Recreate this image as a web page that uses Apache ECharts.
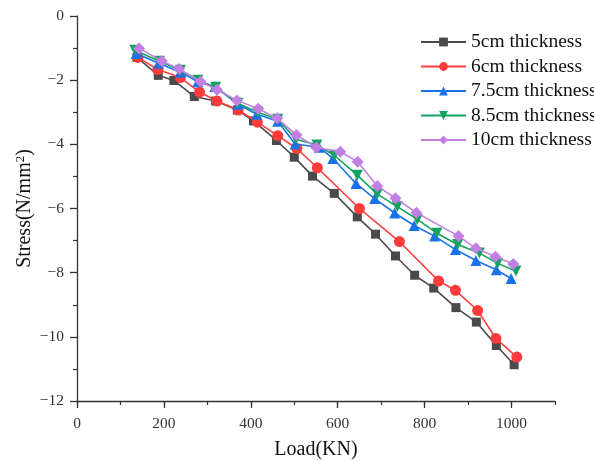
<!DOCTYPE html>
<html>
<head>
<meta charset="utf-8">
<script src="https://cdn.jsdelivr.net/npm/echarts@6/dist/echarts.min.js"></script>
<style>
html,body{margin:0;padding:0;background:#fff;}
#chart{width:594px;height:461px;}
</style>
</head>
<body>
<div id="chart"></div>
<script>
// Load (KN) vs. stress (N/mm²) for each slab thickness
const seriesNames = ['5cm thickness', '6cm thickness', '7.5cm thickness', '8.5cm thickness', '10cm thickness'];

const load5 = [138, 187, 223, 270, 319, 369, 406, 459, 500, 542, 592, 645, 687, 733, 777, 821, 872, 919, 965, 1006];
const stress5 = [-1.29, -1.85, -2.01, -2.51, -2.65, -2.93, -3.27, -3.88, -4.40, -4.99, -5.53, -6.26, -6.80, -7.48, -8.08, -8.48, -9.09, -9.54, -10.27, -10.87];

const load6 = [140, 186, 238, 282, 322, 371, 415, 462, 506, 553, 650, 742, 832, 871, 922, 964, 1012];
const stress6 = [-1.29, -1.67, -1.92, -2.37, -2.65, -2.93, -3.31, -3.73, -4.13, -4.73, -6.00, -7.03, -8.26, -8.55, -9.18, -10.05, -10.63];

const load75 = [136, 188, 238, 278, 317, 370, 414, 462, 502, 557, 589, 642, 685, 731, 776, 823, 871, 918, 965, 999];
const stress75 = [-1.17, -1.47, -1.75, -2.05, -2.20, -2.75, -3.06, -3.28, -3.99, -4.09, -4.44, -5.22, -5.69, -6.14, -6.53, -6.86, -7.28, -7.62, -7.91, -8.18];

const load85 = [133, 190, 238, 278, 319, 370, 416, 462, 504, 552, 592, 645, 691, 737, 783, 828, 876, 926, 968, 1010];
const stress85 = [-1.07, -1.41, -1.69, -2.00, -2.22, -2.72, -3.00, -3.22, -3.84, -4.02, -4.34, -4.96, -5.55, -5.94, -6.34, -6.77, -7.12, -7.39, -7.71, -7.95];

const load10 = [143, 195, 235, 284, 322, 368, 417, 461, 505, 551, 606, 646, 691, 733, 781, 878, 918, 963, 1004];
const stress10 = [-1.01, -1.40, -1.65, -2.04, -2.30, -2.63, -2.89, -3.19, -3.71, -4.10, -4.23, -4.54, -5.30, -5.68, -6.13, -6.86, -7.24, -7.50, -7.73];

const xTickLabels = [0, 200, 400, 600, 800, 1000];

const FONT = '"Liberation Serif", "Times New Roman", serif';
const AXIS_COLOR = '#333';
const colors = ['#4a4a4a', '#ff3b3b', '#1a72e8', '#13a25f', '#c27fe2'];
const symbols = ['rect', 'circle', 'triangle', 'path://M0,0 L10,0 L5,10 Z', 'diamond'];
const symbolSizes = [9, 11, 11, 11, 12];

const loads = [load5, load6, load75, load85, load10];
const stresses = [stress5, stress6, stress75, stress85, stress10];

const fmtMinus = v => (v < 0 ? '\u2212' + Math.abs(v) : String(v));

const gridBox = { left: 77, right: 39, top: 16, bottom: 60, containLabel: false, outerBoundsMode: 'none' };

const series = seriesNames.map((name, i) => ({
  name: name,
  type: 'line',
  xAxisIndex: 0,
  yAxisIndex: 0,
  data: loads[i].map((x, k) => [x, stresses[i][k]]),
  symbol: symbols[i],
  symbolSize: symbolSizes[i],
  showAllSymbol: true,
  lineStyle: { color: colors[i], width: 1.6 },
  itemStyle: { color: colors[i], borderWidth: 0 },
  emphasis: { disabled: true },
  animation: false,
  z: 2 + i
}));

const chart = echarts.init(document.getElementById('chart'), null, { renderer: 'canvas' });
chart.setOption({
  backgroundColor: '#fff',
  animation: false,
  grid: [Object.assign({}, gridBox), Object.assign({}, gridBox)],
  legend: {
    orient: 'vertical',
    left: 420,
    top: 32,
    padding: 0,
    itemWidth: 45,
    itemHeight: 11,
    itemGap: 4.5,
    textStyle: { fontFamily: FONT, fontSize: 19.5, color: '#111', lineHeight: 20 },
    data: seriesNames
  },
  xAxis: [
    {
      type: 'value',
      gridIndex: 0,
      min: 0, max: 1100, interval: 200,
      name: 'Load(KN)',
      nameLocation: 'middle',
      nameGap: 39,
      nameMoveOverlap: false,
      nameTextStyle: { fontFamily: FONT, fontSize: 20, color: '#111' },
      axisLine: { show: true, onZero: false, lineStyle: { color: AXIS_COLOR, width: 1.3 } },
      axisTick: { show: true, inside: false, length: 7, customValues: xTickLabels, lineStyle: { color: AXIS_COLOR, width: 1.3 } },
      axisLabel: { customValues: xTickLabels, margin: 15, fontFamily: FONT, fontSize: 15.5, color: '#333', formatter: v => String(v) },
      splitLine: { show: false }
    },
    {
      // minor ticks every 100 KN
      type: 'value',
      gridIndex: 1,
      position: 'bottom',
      min: 0, max: 1100, interval: 100,
      axisLine: { show: false, onZero: false },
      axisTick: { show: true, inside: false, length: 4, lineStyle: { color: AXIS_COLOR, width: 1.2 } },
      axisLabel: { show: false },
      splitLine: { show: false }
    }
  ],
  yAxis: [
    {
      type: 'value',
      gridIndex: 0,
      min: -12, max: 0, interval: 2,
      name: 'Stress(N/mm{sup|2})',
      nameLocation: 'middle',
      nameRotate: 90,
      nameGap: 41,
      nameMoveOverlap: false,
      nameTextStyle: {
        fontFamily: FONT, fontSize: 20, color: '#111',
        rich: { sup: { fontFamily: FONT, fontSize: 13, color: '#111', verticalAlign: 'top', padding: [0, 0, 9, 0] } }
      },
      axisLine: { show: true, onZero: false, lineStyle: { color: AXIS_COLOR, width: 1.3 } },
      axisTick: { show: true, inside: false, length: 7, lineStyle: { color: AXIS_COLOR, width: 1.3 } },
      minorTick: { show: true, splitNumber: 2, length: 4, lineStyle: { color: AXIS_COLOR, width: 1.2 } },
      axisLabel: { margin: 13, fontFamily: FONT, fontSize: 15.5, color: '#333', formatter: fmtMinus },
      splitLine: { show: false },
      minorSplitLine: { show: false }
    },
    {
      type: 'value',
      gridIndex: 1,
      min: -12, max: 0,
      show: false
    }
  ],
  series: series
});
</script>
</body>
</html>
